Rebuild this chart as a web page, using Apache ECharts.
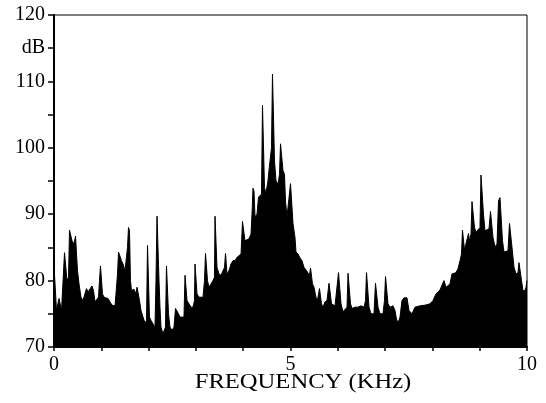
<!DOCTYPE html>
<html>
<head>
<meta charset="utf-8">
<script src="https://cdn.jsdelivr.net/npm/echarts@6/dist/echarts.min.js"></script>
<style>
  html, body { margin: 0; padding: 0; background: #fff; }
  #chart { width: 546px; height: 403px; }
</style>
</head>
<body>
<div id="chart"></div>
<script>
// Spectrum outline: frequency (kHz) and level (dB)
const freqKHz = [
  0, 0.032, 0.053, 0.085, 0.106, 0.137, 0.159, 0.201, 0.222, 0.254,
  0.275, 0.307, 0.328, 0.359, 0.381, 0.423, 0.455, 0.476, 0.497, 0.529,
  0.571, 0.613, 0.655, 0.687, 0.719, 0.761, 0.803, 0.835, 0.867, 0.909,
  0.941, 0.962, 0.983, 1.004, 1.025, 1.057, 1.099, 1.142, 1.184, 1.226,
  1.290, 1.321, 1.343, 1.364, 1.395, 1.427, 1.459, 1.501, 1.533, 1.554,
  1.575, 1.596, 1.617, 1.638, 1.691, 1.734, 1.755, 1.776, 1.808, 1.839,
  1.882, 1.924, 1.956, 1.977, 1.998, 2.019, 2.051, 2.093, 2.135, 2.156,
  2.178, 2.199, 2.220, 2.241, 2.262, 2.304, 2.336, 2.357, 2.378, 2.400,
  2.421, 2.452, 2.495, 2.537, 2.569, 2.600, 2.632, 2.664, 2.706, 2.748,
  2.770, 2.791, 2.812, 2.854, 2.896, 2.939, 2.970, 2.981, 3.002, 3.023,
  3.066, 3.108, 3.150, 3.182, 3.203, 3.224, 3.245, 3.277, 3.319, 3.362,
  3.393, 3.404, 3.425, 3.446, 3.488, 3.531, 3.573, 3.605, 3.626, 3.647,
  3.658, 3.700, 3.742, 3.784, 3.827, 3.869, 3.911, 3.954, 3.985, 4.017,
  4.038, 4.080, 4.123, 4.165, 4.186, 4.207, 4.228, 4.250, 4.292, 4.324,
  4.355, 4.387, 4.408, 4.429, 4.450, 4.482, 4.524, 4.545, 4.567, 4.598,
  4.619, 4.641, 4.662, 4.694, 4.736, 4.767, 4.789, 4.820, 4.841, 4.873,
  4.894, 4.926, 4.968, 5.000, 5.032, 5.053, 5.095, 5.116, 5.159, 5.201,
  5.243, 5.285, 5.328, 5.370, 5.402, 5.423, 5.444, 5.465, 5.497, 5.539,
  5.560, 5.581, 5.613, 5.634, 5.655, 5.687, 5.729, 5.772, 5.814, 5.846,
  5.867, 5.899, 5.941, 5.983, 6.015, 6.047, 6.068, 6.110, 6.152, 6.195,
  6.216, 6.247, 6.269, 6.300, 6.364, 6.427, 6.491, 6.554, 6.586, 6.607,
  6.639, 6.660, 6.702, 6.765, 6.797, 6.829, 6.850, 6.892, 6.956, 6.987,
  7.009, 7.040, 7.061, 7.104, 7.167, 7.209, 7.241, 7.273, 7.315, 7.357,
  7.400, 7.463, 7.505, 7.569, 7.632, 7.738, 7.844, 7.949, 8.013, 8.076,
  8.161, 8.214, 8.245, 8.288, 8.330, 8.372, 8.414, 8.499, 8.541, 8.584,
  8.615, 8.636, 8.658, 8.679, 8.710, 8.742, 8.763, 8.784, 8.816, 8.837,
  8.869, 8.890, 8.922, 8.964, 9.006, 9.027, 9.059, 9.080, 9.112, 9.154,
  9.197, 9.228, 9.260, 9.281, 9.324, 9.366, 9.398, 9.429, 9.461, 9.482,
  9.514, 9.556, 9.598, 9.630, 9.662, 9.683, 9.725, 9.767, 9.810, 9.831,
  9.863, 9.884, 9.915, 9.958, 9.979, 10.0
];

const levelDB = [
  82.3, 82.3, 75.5, 75.5, 77.3, 77.3, 75.5, 75.8, 84.2, 84.2,
  80.0, 80.5, 87.6, 87.8, 86.0, 85.5, 86.7, 84.0, 81.5, 79.5,
  77.5, 77.0, 77.3, 78.8, 78.3, 78.5, 79.2, 78.5, 76.8, 76.5,
  77.5, 80.0, 82.2, 82.2, 78.0, 77.5, 77.8, 77.3, 77.0, 76.3,
  76.2, 76.5, 81.0, 84.3, 84.0, 83.0, 82.5, 81.5, 81.5, 85.0,
  88.0, 87.5, 80.0, 78.5, 78.7, 78.0, 79.0, 78.8, 77.0, 75.5,
  74.5, 73.6, 74.0, 85.3, 85.3, 74.5, 74.0, 73.5, 73.0, 80.0,
  89.7, 89.7, 80.0, 76.0, 73.0, 72.0, 71.8, 73.0, 82.2, 82.2,
  75.0, 73.0, 72.5, 73.0, 75.8, 75.8, 75.0, 74.5, 74.3, 74.5,
  80.8, 80.8, 77.0, 76.5, 76.0, 76.0, 77.0, 82.5, 82.5, 78.0,
  77.5, 77.3, 77.5, 80.0, 84.1, 84.1, 80.0, 79.0, 79.2, 80.0,
  80.5, 89.7, 89.7, 82.0, 81.0, 80.8, 81.0, 82.0, 84.1, 84.0,
  81.0, 81.5, 82.5, 83.0, 83.0, 83.5, 83.8, 84.0, 88.9, 88.9,
  86.0, 86.0, 86.3, 87.0, 90.0, 93.9, 93.5, 89.6, 90.0, 92.6,
  92.5, 93.0, 106.4, 106.4, 94.0, 93.2, 95.0, 96.6, 96.5, 100.0,
  111.1, 110.8, 98.0, 95.0, 94.5, 96.0, 100.6, 100.4, 96.6, 96.0,
  92.0, 89.6, 89.6, 94.6, 94.6, 88.6, 86.5, 84.3, 84.0, 83.4,
  83.0, 82.0, 81.6, 81.3, 80.8, 81.9, 81.8, 79.5, 79.0, 77.5,
  77.0, 77.5, 78.8, 78.8, 76.5, 76.0, 76.8, 77.0, 79.6, 79.6,
  76.5, 76.2, 76.2, 76.5, 81.2, 81.2, 76.5, 75.3, 75.3, 76.0,
  81.1, 81.0, 76.5, 75.8, 76.0, 76.0, 76.2, 76.0, 77.0, 81.2,
  81.2, 76.0, 75.0, 75.0, 79.6, 79.6, 76.0, 75.0, 75.0, 77.0,
  80.6, 80.6, 76.5, 76.0, 76.2, 75.5, 74.2, 73.6, 74.5, 77.0,
  77.4, 77.4, 75.5, 75.0, 76.0, 76.2, 76.3, 76.5, 77.0, 78.0,
  78.6, 79.5, 80.0, 79.0, 79.0, 79.5, 81.0, 81.2, 81.8, 83.0,
  84.0, 87.6, 87.4, 84.6, 84.6, 86.5, 87.1, 86.0, 87.0, 91.9,
  91.8, 88.0, 87.3, 87.5, 88.0, 95.9, 95.8, 90.0, 87.5, 87.5,
  87.8, 90.4, 90.3, 86.5, 85.1, 85.5, 92.0, 92.5, 92.2, 86.0,
  84.3, 84.3, 84.5, 88.6, 88.6, 85.0, 82.0, 81.0, 81.2, 82.7,
  82.7, 80.0, 78.5, 78.5, 79.0, 80.0
];

// Axis ranges and tick labels
const xRange = [0, 10];
const xTickLabels = [0, 5, 10];
const yRange = [70, 120];
const yTickLabels = [70, 80, 90, 100, 110, 120];
const yUnitAt = 115;
const yUnit = 'dB';
const xTitle = 'FREQUENCY (KHz)';

const serif = "'Liberation Serif', 'DejaVu Serif', serif";
const points = freqKHz.map((f, i) => [f, levelDB[i]]);

const chart = echarts.init(document.getElementById('chart'), null, { renderer: 'canvas' });
chart.setOption({
  animation: false,
  backgroundColor: '#fff',
  grid: {
    left: 54, right: 19, top: 15, bottom: 56,
    show: true, borderColor: '#000', borderWidth: 1, backgroundColor: 'transparent'
  },
  xAxis: {
    type: 'value',
    min: xRange[0], max: xRange[1], interval: 1,
    axisLine: { show: true, lineStyle: { color: '#000', width: 2 } },
    axisTick: { show: true, length: 4, lineStyle: { color: '#000', width: 1.5 } },
    axisLabel: {
      color: '#000', fontFamily: serif, fontSize: 20, margin: 8,
      formatter: v => (xTickLabels.includes(v) ? String(v) : '')
    },
    splitLine: { show: false }
  },
  yAxis: {
    type: 'value',
    min: yRange[0], max: yRange[1], interval: 5,
    axisLine: { show: true, lineStyle: { color: '#000', width: 2 } },
    axisTick: { show: true, length: 6, lineStyle: { color: '#000', width: 1.5 } },
    axisLabel: {
      color: '#000', fontFamily: serif, fontSize: 20, margin: 9,
      formatter: v => (v === yUnitAt ? yUnit : (yTickLabels.includes(v) ? String(v) : ''))
    },
    splitLine: { show: false }
  },
  // Axis title, set in a widened serif face
  graphic: [{
    type: 'text',
    x: 303,
    y: 383,
    scaleX: 1.23,
    style: {
      text: xTitle,
      fontFamily: serif,
      fontSize: 20,
      fill: '#000',
      align: 'center',
      verticalAlign: 'middle'
    }
  }],
  series: [{
    type: 'line',
    data: points,
    symbol: 'none',
    smooth: false,
    lineStyle: { color: '#000', width: 1 },
    areaStyle: { color: '#000', opacity: 1, origin: 'start' },
    z: 1
  }]
});
</script>
</body>
</html>
